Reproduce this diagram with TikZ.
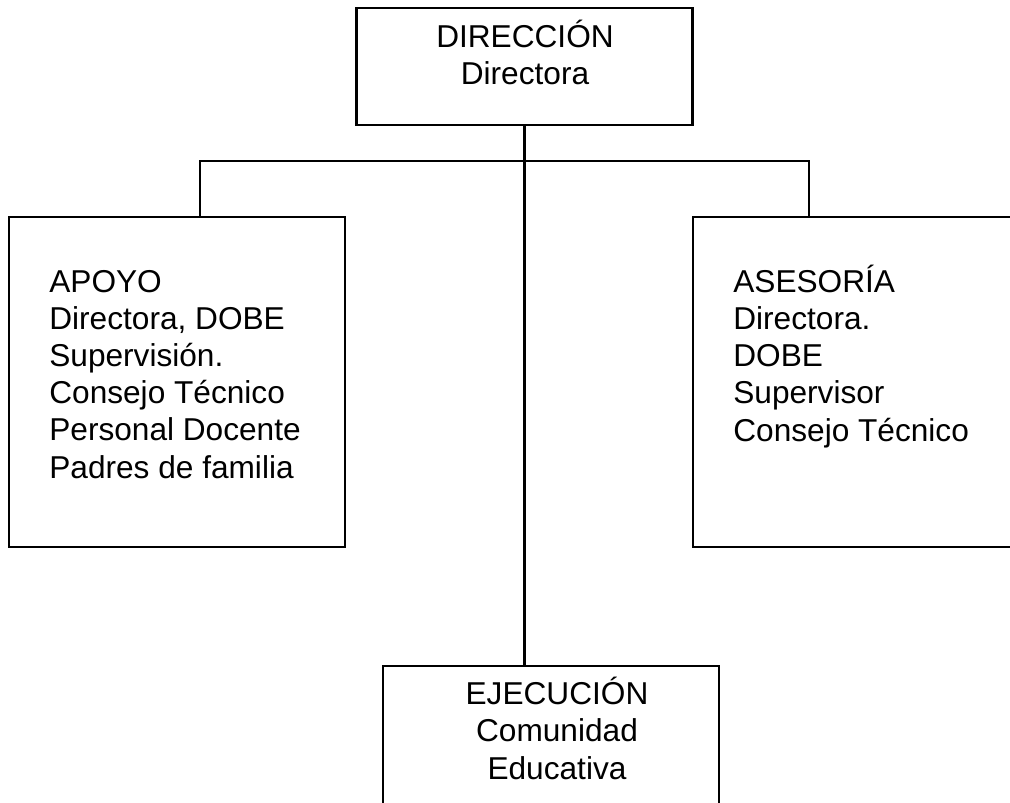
\documentclass[tikz,border=0pt]{standalone}
\usepackage{fontspec}
\setmainfont{Liberation Sans}
\usetikzlibrary{positioning}
\definecolor{lineColor}{rgb}{0,0,0}
\tikzset{
  orgbox/.style={draw=lineColor, line width=1.4pt, inner sep=0pt, minimum width=6.72cm},
  orgline/.style={color=lineColor, line width=1.4pt},
  orgtext/.style={inner sep=0pt, font=\fontsize{18}{21.1}\selectfont}
}
\begin{document}
\begin{tikzpicture}[x=0.02cm, y=-0.02cm]
\useasboundingbox (0,0) rectangle (1010,803);

\node[orgbox, minimum height=2.34cm] (dir) at (524.5,66.5){};
\node[orgbox, minimum height=6.6cm] (apoyo) at (177,382){};
\node[orgbox, minimum height=6.6cm] (asesoria) at (861,382){};
\node[orgbox, minimum height=3.2cm] (ejec) at (551,746){};

\node[orgtext, align=center, anchor=base] (dirtxt) at (525,85){DIRECCIÓN\\Directora};
\node[orgtext, align=left, anchor=base west] (apoyotxt) at (49,478){APOYO\\Directora, DOBE\\Supervisión.\\Consejo Técnico\\Personal Docente\\Padres de familia};
\node[orgtext, align=left, anchor=base west] (asesoriatxt) at (733,441){ASESORÍA\\Directora.\\DOBE\\Supervisor\\Consejo Técnico};
\node[orgtext, align=center, anchor=base] (ejectxt) at (557,779){EJECUCIÓN\\Comunidad\\Educativa};

\coordinate (bus) at (524.5,161);
\coordinate (apoyoin) at (200,217);
\coordinate (asesoriain) at (809,217);
\draw[orgline] (dir.south) -- (dir.south |- ejec.north);
\draw[orgline] (apoyoin) |- (bus) -| (asesoriain);
\end{tikzpicture}
\end{document}
